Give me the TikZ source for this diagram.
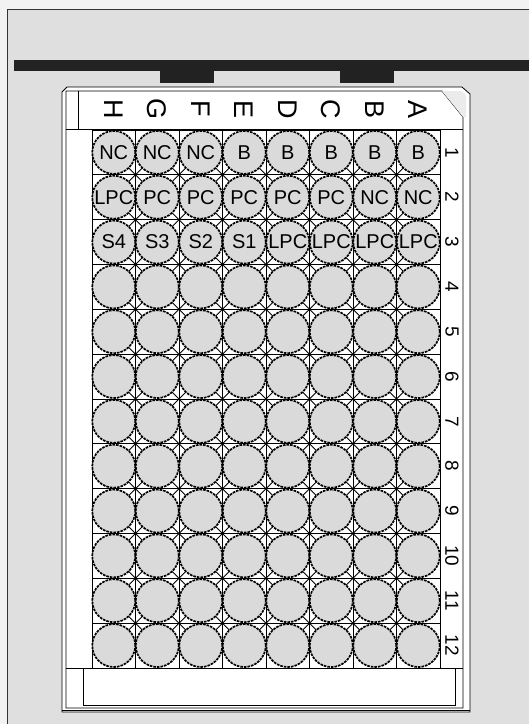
\documentclass[tikz,border=0pt]{standalone}
\usepackage{fontspec}
\setmainfont{Liberation Sans}
\definecolor{bgout}{HTML}{F2F2F2}
\definecolor{bgin}{HTML}{DFDFDF}
\definecolor{wellfill}{HTML}{DADADA}
\definecolor{barcol}{HTML}{222222}
\begin{document}
\begin{tikzpicture}[x=1pt,y=-1pt,
  wellbox/.style={circle, minimum size=43pt, inner sep=0pt, fill=wellfill, draw=black,
    line width=1.7pt, dash pattern=on 2.6pt off 1.0pt},
  welltext/.style={inner sep=0pt, font=\fontsize{20}{20}\selectfont},
  collabel/.style={inner sep=0pt, rotate=-90, font=\fontsize{27}{27}\selectfont},
  rowlabel/.style={inner sep=0pt, rotate=-90, font=\fontsize{19}{19}\selectfont},
  gridline/.style={line width=0.9pt, black},
  plateline/.style={line width=0.8pt, black}]
\useasboundingbox (0,0) rectangle (529,724);
% background
\fill[bgout] (0,0) rectangle (529,724);
\fill[bgin] (7,9) rectangle (540,740);
\draw[line width=1pt, black!80] (7,740) -- (7,9) -- (540,9);
% black bar and tabs
\fill[barcol] (14,60) rectangle (529,71);
\fill[barcol] (160,71) rectangle (214,83);
\fill[barcol] (340,71) rectangle (394,83);
% plate body
\fill[white] (62,712) -- (62,92) -- (67,87) -- (462,87) -- (470,94) -- (470,712) -- cycle;
\draw[plateline] (62,712) -- (62,92) -- (67,87) -- (462,87) -- (470,94) -- (470,712) -- cycle;
\draw[plateline] (66,708) -- (66,91) -- (442,91) -- (463,117) -- (463,708) -- cycle;
\fill[black!8] (442,91) -- (462,91) -- (466,96) -- (466,117) -- (463,117) -- cycle;
\draw[plateline] (78,91) -- (78,129);
\draw[line width=1.8pt] (66,129.5) -- (463,129.5);
% bottom strip
\draw[plateline] (66,668) -- (463,668);
\draw[plateline] (83,668) -- (83,705) -- (455,705) -- (455,668);
\draw[plateline] (62,710) -- (470,710);
% grid
\foreach \i in {0,...,8} {
  \draw[gridline] ({92+43.5*\i},130) -- ({92+43.5*\i},668);
}
\foreach \j in {0,...,12} {
  \draw[gridline] (92,{130+44.83*\j}) -- (440,{130+44.83*\j});
}
\foreach \i in {1,...,7} {
  \foreach \j in {1,...,11} {
    \draw[gridline] ({92+43.5*\i-9},{130+44.83*\j-9}) -- ({92+43.5*\i+9},{130+44.83*\j+9});
    \draw[gridline] ({92+43.5*\i-9},{130+44.83*\j+9}) -- ({92+43.5*\i+9},{130+44.83*\j-9});
  }
}
% wells
\foreach \r in {1,...,12} {
  \foreach \c in {1,...,8} {
    \node[wellbox] (w-\r-\c) at ({92+43.5*(\c-0.5)},{130+44.83*(\r-0.5)}) {};
  }
}
% well labels
\foreach \c/\t in {1/NC,2/NC,3/NC,4/B,5/B,6/B,7/B,8/B} {
  \node[welltext] at (w-1-\c) {\t};
}
\foreach \c/\t in {1/LPC,2/PC,3/PC,4/PC,5/PC,6/PC,7/NC,8/NC} {
  \node[welltext] at (w-2-\c) {\t};
}
\foreach \c/\t in {1/S4,2/S3,3/S2,4/S1,5/LPC,6/LPC,7/LPC,8/LPC} {
  \node[welltext] at (w-3-\c) {\t};
}
% column letters
\foreach \c/\t in {1/H,2/G,3/F,4/E,5/D,6/C,7/B,8/A} {
  \node[collabel] (col-\c) at ({92+43.5*(\c-0.5)},109) {\t};
}
% row numbers
\foreach \r in {1,...,12} {
  \node[rowlabel] (row-\r) at (452,{130+44.83*(\r-0.5)}) {\r};
}
\end{tikzpicture}
\end{document}
